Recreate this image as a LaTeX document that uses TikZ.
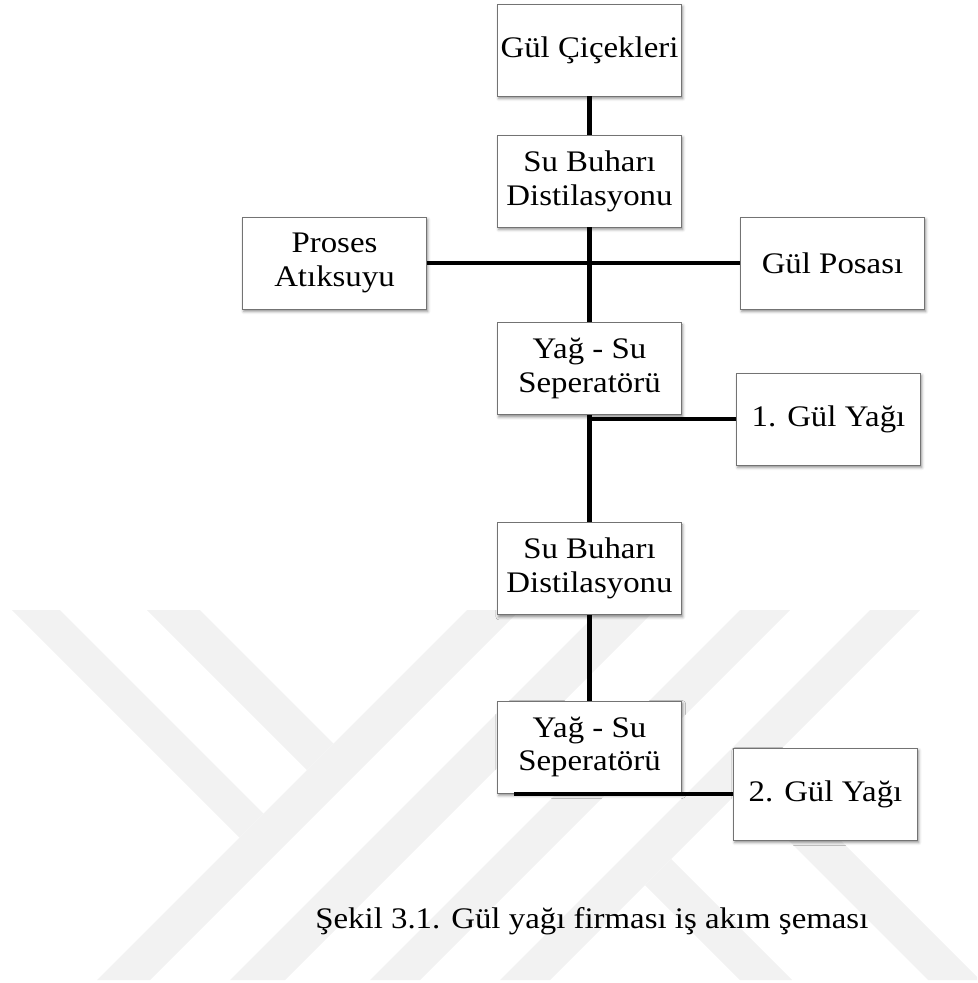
\documentclass[tikz,border=0pt]{standalone}
\usepackage{fontspec}
\setmainfont{Liberation Serif}[FakeStretch=1.1]
\usetikzlibrary{shadows.blur}

\begin{document}
\begin{tikzpicture}[x=0.02cm,y=-0.02cm,
  kutu/.style={draw=black!55,line width=0.5pt,fill=white,minimum width=3.68cm,minimum height=1.84cm,
    inner sep=0pt,align=center,font=\fontsize{17}{19.2}\selectfont,
    blur shadow={shadow xshift=0.7pt,shadow yshift=-1.4pt,shadow blur radius=1.6pt,shadow opacity=45}},
  hat/.style={line width=2.3pt,black},
  filigran/.style={fill=black!5}]
\useasboundingbox (0,0) rectangle (977,983);
% watermark (Y)
\fill[filigran] (12,610) -- (60,610) -- (263.5,813.5) -- (239.5,837.5) -- cycle;
\fill[filigran] (147,610) -- (200,610) -- (333.5,743.5) -- (307,770) -- cycle;
\fill[filigran] (467,610) -- (520,610) -- (150,980) -- (97,980) -- cycle;
\fill[filigran] (600,610) -- (655,610) -- (285,980) -- (230,980) -- cycle;
% watermark (K)
\fill[filigran] (740,610) -- (790,610) -- (420,980) -- (370,980) -- cycle;
\fill[filigran] (870,610) -- (920,610) -- (550,980) -- (500,980) -- cycle;
\fill[filigran] (671,859) -- (792,980) -- (740,980) -- (645,885) -- cycle;
\fill[filigran] (765,765) -- (977,977) -- (977,980) -- (928,980) -- (739,791) -- cycle;
% boxes
\node[kutu] (cicek) at (589.5,50) {Gül Çiçekleri};
\node[kutu] (dist1) at (589.5,181) {Su Buharı\\Distilasyonu};
\node[kutu] (atik) at (334.5,263) {Proses\\Atıksuyu};
\node[kutu] (posa) at (832.5,263) {Gül Posası};
\node[kutu] (yagsu1) at (589.5,368.5) {Yağ - Su\\Seperatörü};
\node[kutu] (gul1) at (828.5,419) {1. Gül Yağı};
\node[kutu] (dist2) at (589.5,568.5) {Su Buharı\\Distilasyonu};
\node[kutu] (yagsu2) at (589.5,747) {Yağ - Su\\Seperatörü};
\node[kutu] (gul2) at (825.5,794) {2. Gül Yağı};
% lines
\draw[hat] (cicek.south) -- (dist1.north);
\draw[hat] (dist1.south) -- (yagsu1.north);
\draw[hat] (atik.east) -- (posa.west);
\draw[hat] (yagsu1.south) -- (dist2.north);
\draw[hat] (yagsu1.south |- gul1.west) -- (gul1.west);
\draw[hat] (dist2.south) -- (yagsu2.north);
\coordinate (yag2uc) at ([xshift=0.34cm]yagsu2.south west);
\draw[hat] (yag2uc |- gul2.west) -- (gul2.west);
% caption
\node[anchor=base west,inner sep=0pt,font=\fontsize{17}{19.2}\selectfont] (baslik) at (315,928)
  {Şekil 3.1. Gül yağı firması iş akım şeması};
\end{tikzpicture}
\end{document}
